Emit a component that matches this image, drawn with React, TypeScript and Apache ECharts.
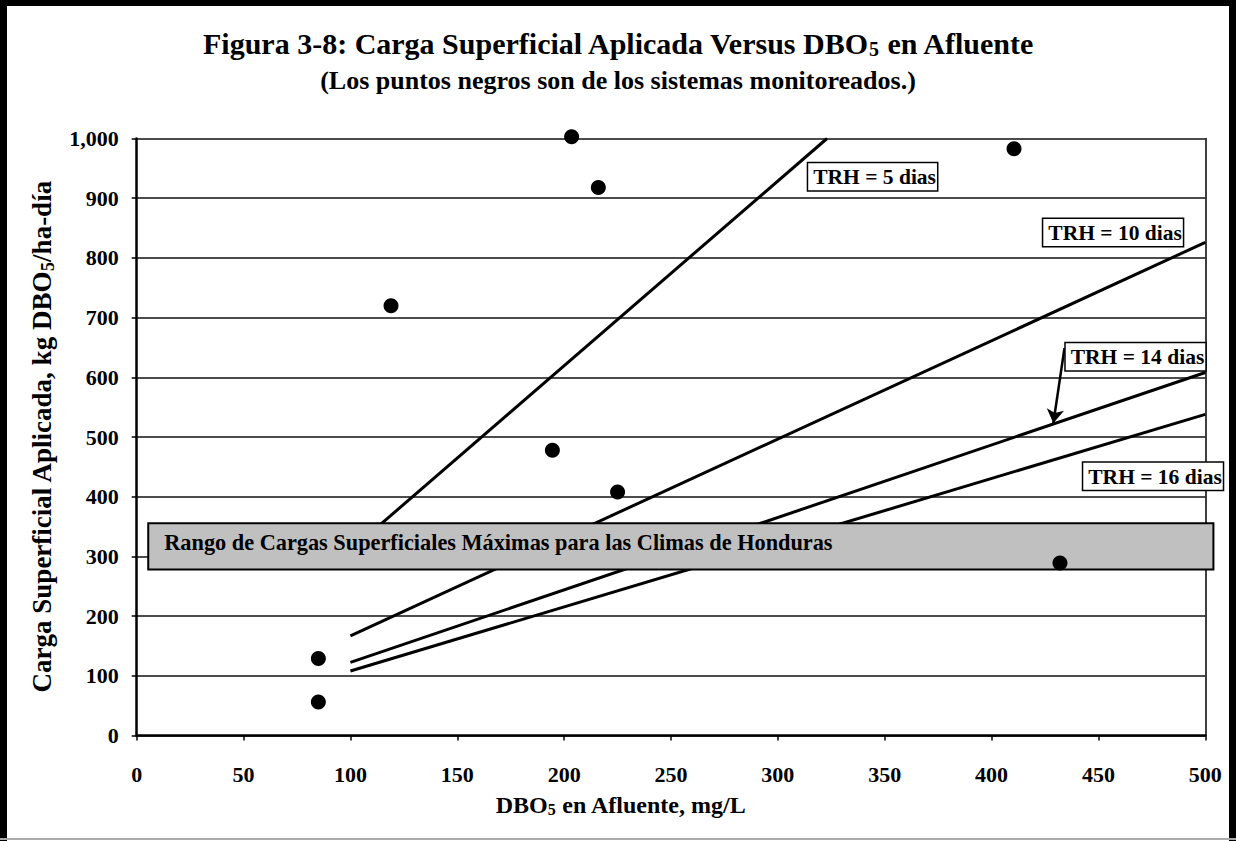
import React, { useEffect, useRef } from "react";
import * as echarts from "echarts";

// ---- data ----
const monitoredX = [85, 85, 119, 203.5, 216, 194.5, 225, 410.5, 432];
const monitoredY = [129, 56, 720, 1003, 918, 478, 408, 983, 289];

const trh5X = [100, 323];
const trh5Y = [310, 1000];
const trh10X = [100, 500];
const trh10Y = [167, 826];
const trh14X = [100, 500];
const trh14Y = [122.5, 608];
const trh16X = [100, 500];
const trh16Y = [108, 538];

const rangeBoxX = [5.4, 503.8];
const rangeBoxY = [278, 355.5];
const rangeLabel = "Rango de Cargas Superficiales Máximas para las Climas de Honduras";

const trhLabels = ["TRH = 5 dias", "TRH = 10 dias", "TRH = 14 dias", "TRH = 16 dias"];
const trhLabelX = [314.2, 424.2, 434.7, 442.9];
const trhLabelY = [958.5, 865.2, 657, 457];

const arrowX = [434.1, 428.9];
const arrowY = [648.6, 523];

const FONT = '"Liberation Serif", "Times New Roman", serif';

function pairs(xs: number[], ys: number[]) {
  return xs.map((x, i) => [x, ys[i]]);
}

export default function App() {
  const ref = useRef<HTMLDivElement>(null);
  useEffect(() => {
    document.body.style.margin = "0";
    if (!ref.current) return;
    const chart = echarts.init(ref.current, null, { renderer: "svg" });
    const lineStyle = { color: "#000", width: 3 };
    const sub = (size: number, pad: number) => ({
      fontSize: size,
      fontWeight: "bold" as const,
      fontFamily: FONT,
      color: "#000",
      padding: [pad, 0, 0, 0],
    });
    const main = (size: number) => ({
      fontSize: size,
      fontWeight: "bold" as const,
      fontFamily: FONT,
      color: "#000",
    });
    const option: any = {
      animation: false,
      backgroundColor: "#fff",
      title: [
        {
          text: "{a|Figura 3-8: Carga Superficial Aplicada Versus DBO}{s|5}{a| en Afluente}",
          left: "center",
          top: 22,
          textStyle: { rich: { a: main(30), s: sub(20, 12) } },
        },
        {
          text: "(Los puntos negros son de los sistemas monitoreados.)",
          left: "center",
          top: 62,
          textStyle: main(26),
        },
      ],
      grid: { left: 136.7, right: 30.7, top: 138.5, bottom: 105.5, containLabel: false },
      xAxis: {
        type: "value",
        min: 0,
        max: 500,
        interval: 50,
        name: "{a|DBO}{s|5}{a| en Afluente, mg/L}",
        nameLocation: "middle",
        nameGap: 56,
        nameTextStyle: { padding: [0, 100, 0, 0], rich: { a: main(24), s: sub(16, 10) } },
        axisLine: { show: true, lineStyle: { color: "#000", width: 2.5 } },
        axisTick: { show: true, inside: false, length: 5, lineStyle: { color: "#000", width: 1.5 } },
        axisLabel: { margin: 28, ...main(22) },
        splitLine: { show: false },
      },
      yAxis: [
        {
          type: "value",
          min: 0,
          max: 1000,
          interval: 100,
          name: "{a|Carga Superficial Aplicada, kg DBO}{s|5}{a|/ha-día}",
          nameLocation: "middle",
          nameGap: 80,
          nameRotate: 90,
          nameTextStyle: { rich: { a: main(27), s: sub(18, 11) } },
          axisLine: { show: true, lineStyle: { color: "#000", width: 2.5 } },
          axisTick: { show: true, inside: false, length: 5, lineStyle: { color: "#000", width: 1.5 } },
          axisLabel: {
            margin: 18,
            ...main(22),
            formatter: (v: number) => v.toLocaleString("en-US"),
          },
          splitLine: { show: true, lineStyle: { color: "#111", width: 1.5 } },
        },
        {
          type: "value",
          min: 0,
          max: 1000,
          interval: 100,
          position: "right",
          axisLine: { show: true, lineStyle: { color: "#000", width: 1.5 } },
          axisTick: { show: false },
          axisLabel: { show: false },
          splitLine: { show: false },
        },
      ],
      series: [
        { type: "line", data: pairs(trh5X, trh5Y), showSymbol: false, lineStyle, z: 2 },
        { type: "line", data: pairs(trh10X, trh10Y), showSymbol: false, lineStyle, z: 2 },
        {
          type: "line",
          data: pairs(trh14X, trh14Y),
          showSymbol: false,
          lineStyle,
          z: 2,
          markLine: {
            silent: true,
            symbol: ["none", "arrow"],
            symbolSize: [13, 14],
            label: { show: false },
            lineStyle: { color: "#000", width: 2.5, type: "solid" },
            data: [[{ coord: [arrowX[0], arrowY[0]] }, { coord: [arrowX[1], arrowY[1]] }]],
          },
        },
        { type: "line", data: pairs(trh16X, trh16Y), showSymbol: false, lineStyle, z: 2 },
        {
          type: "custom",
          clip: false,
          z: 5,
          data: [[rangeBoxX[0], rangeBoxY[0], rangeBoxX[1], rangeBoxY[1]]],
          renderItem: (params: any, api: any) => {
            const p0 = api.coord([api.value(0), api.value(3)]);
            const p1 = api.coord([api.value(2), api.value(1)]);
            return {
              type: "group",
              children: [
                {
                  type: "rect",
                  shape: { x: p0[0], y: p0[1], width: p1[0] - p0[0], height: p1[1] - p0[1] },
                  style: { fill: "#c0c0c0", stroke: "#000", lineWidth: 2 },
                },
                {
                  type: "text",
                  x: p0[0] + 16,
                  y: (p0[1] + p1[1]) / 2 - 4,
                  style: {
                    text: rangeLabel,
                    font: `bold 22.3px ${FONT}`,
                    fill: "#000",
                    align: "left",
                    verticalAlign: "middle",
                  },
                },
              ],
            };
          },
        },
        {
          type: "custom",
          clip: false,
          z: 6,
          data: trhLabelX.map((x, i) => [x, trhLabelY[i], i]),
          renderItem: (params: any, api: any) => {
            const p = api.coord([api.value(0), api.value(1)]);
            const idx = api.value(2);
            return {
              type: "text",
              x: p[0],
              y: p[1],
              style: {
                text: trhLabels[idx],
                font: `bold 21.5px ${FONT}`,
                fill: "#000",
                align: "left",
                verticalAlign: "top",
                backgroundColor: "#fff",
                borderColor: "#000",
                borderWidth: 1.5,
                padding: [3, 1, 2, 5],
              },
            };
          },
        },
        {
          type: "scatter",
          data: pairs(monitoredX, monitoredY),
          symbol: "circle",
          symbolSize: 15,
          itemStyle: { color: "#000", opacity: 1 },
          clip: false,
          z: 10,
        },
      ],
      graphic: [
        { type: "rect", shape: { x: 0, y: 0, width: 7, height: 841 }, style: { fill: "#000" } },
        { type: "rect", shape: { x: 0, y: 0, width: 1236, height: 6 }, style: { fill: "#000" } },
        { type: "rect", shape: { x: 1229, y: 0, width: 7, height: 841 }, style: { fill: "#000" } },
        { type: "rect", shape: { x: 0, y: 838, width: 1236, height: 2 }, style: { fill: "#aaa" } },
      ],
    };
    chart.setOption(option);
    return () => chart.dispose();
  }, []);
  return <div ref={ref} style={{ width: 1236, height: 841 }} />;
}
